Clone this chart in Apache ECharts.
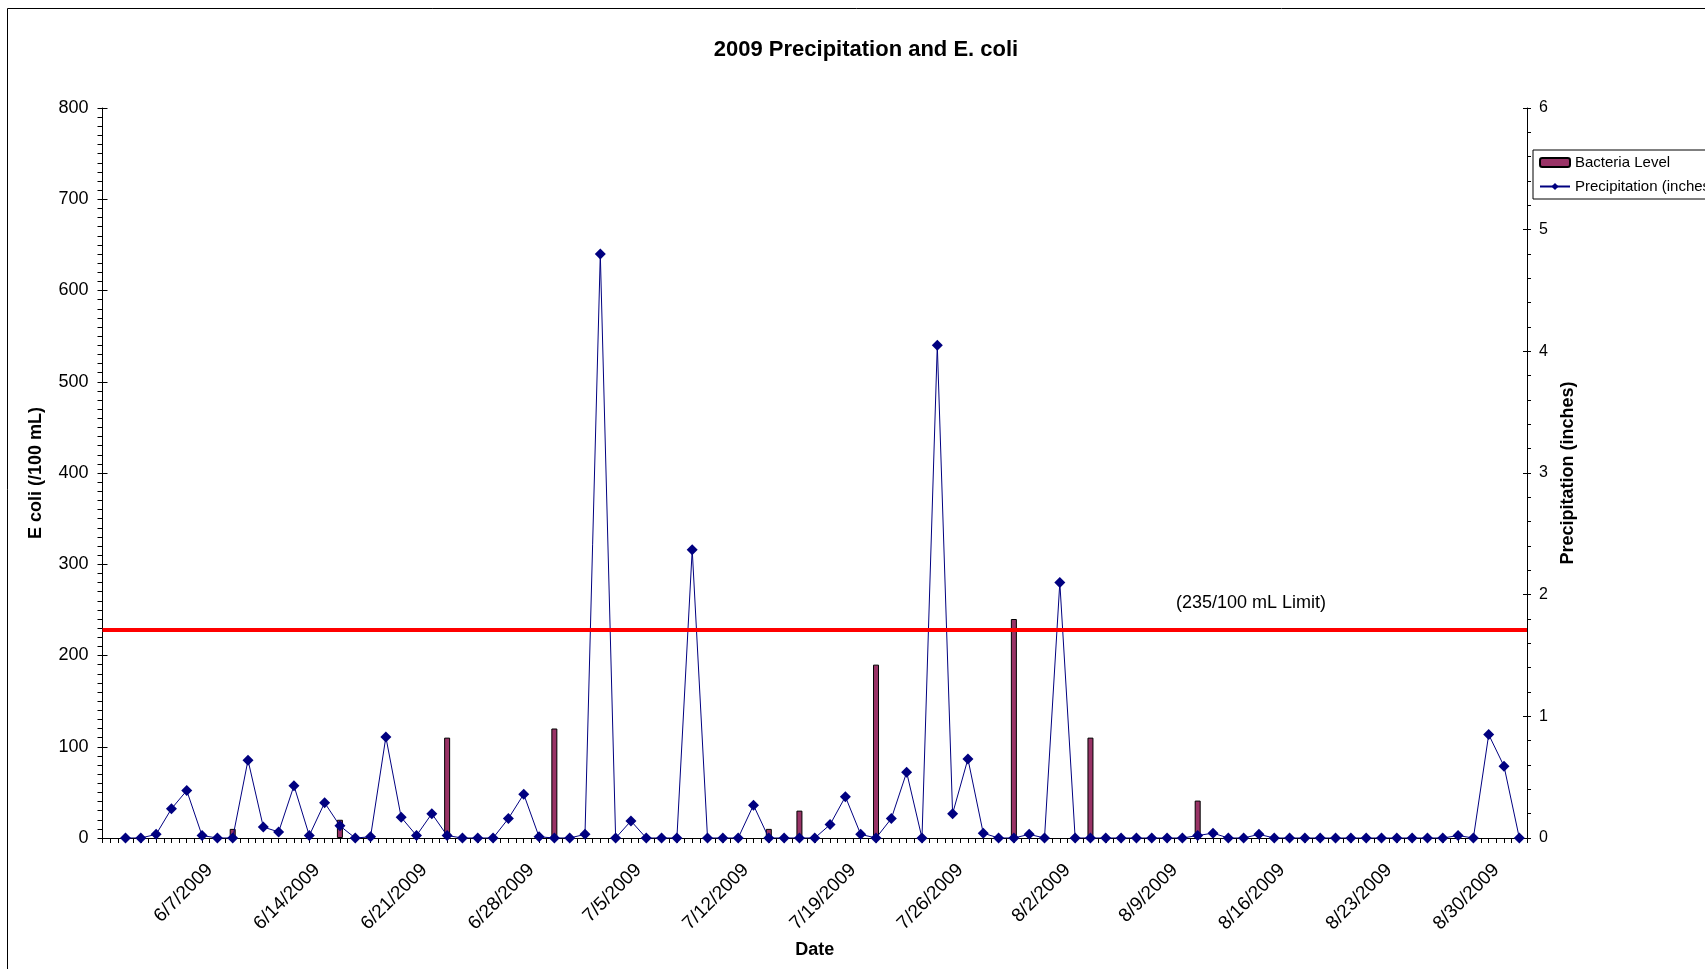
<!DOCTYPE html>
<html><head><meta charset="utf-8">
<script src="https://cdn.jsdelivr.net/npm/echarts@6/dist/echarts.min.js"></script>
<style>html,body{margin:0;padding:0;background:#fff}#c{width:1705px;height:969px}</style>
</head><body><div id="c"></div>
<script>
// Daily precipitation (inches), day 0 = 6/1/2009 ... day 91 = 8/31/2009
const precipitation = [
  0, 0, 0.03, 0.24, 0.39, 0.02, 0, 0, 0.64, 0.09,
  0.05, 0.43, 0.02, 0.29, 0.10, 0, 0.01, 0.83, 0.17, 0.02,
  0.20, 0.02, 0, 0, 0, 0.16, 0.36, 0.01, 0, 0,
  0.03, 4.80, 0, 0.14, 0, 0, 0, 2.37, 0, 0,
  0, 0.27, 0, 0, 0, 0, 0.11, 0.34, 0.03, 0,
  0.16, 0.54, 0, 4.05, 0.20, 0.65, 0.04, 0, 0, 0.03,
  0, 2.10, 0, 0, 0, 0, 0, 0, 0, 0,
  0.02, 0.04, 0, 0, 0.03, 0, 0, 0, 0, 0,
  0, 0, 0, 0, 0, 0, 0, 0.02, 0, 0.85,
  0.59, 0
];
// Bacteria samples: day offset from 6/1/2009 and E. coli level (/100 mL)
const bacteriaDays = [7, 14, 21, 28, 42, 44, 49, 58, 63, 70];
const bacteriaLevels = [10, 20, 110, 120, 10, 30, 190, 240, 110, 41];
// Date tick labels (weekly)
const dateLabels = ['6/7/2009','6/14/2009','6/21/2009','6/28/2009','7/5/2009','7/12/2009',
  '7/19/2009','7/26/2009','8/2/2009','8/9/2009','8/16/2009','8/23/2009','8/30/2009'];
const limitValue = 228;
const limitText = '(235/100 mL Limit)';

const FF = "'Liberation Sans', Arial, sans-serif";
const chart = echarts.init(document.getElementById('c'));
const labelMin = -1.36;
chart.setOption({
  animation: false,
  backgroundColor: '#fff',
  title: {
    text: '2009 Precipitation and E. coli',
    left: 866, top: 39, padding: 0, textAlign: 'center',
    textStyle: {fontFamily: FF, fontSize: 22, fontWeight: 'bold', color: '#000'}
  },
  legend: {
    orient: 'vertical', left: 1533, top: 150,
    borderColor: '#000', borderWidth: 1, padding: [4, 6, 4, 6],
    itemGap: 7, itemWidth: 30, itemHeight: 9,
    textStyle: {fontFamily: FF, fontSize: 15, color: '#000', lineHeight: 17},
    data: ['Bacteria Level', 'Precipitation (inches)']
  },
  grid: {left: 102.5, right: 178, top: 108, bottom: 131},
  xAxis: [
    {
      type: 'value', position: 'bottom', min: -1.5, max: 91.5, interval: 0.5,
      axisLine: {onZero: false, lineStyle: {color: '#000', width: 1}},
      axisTick: {show: true, length: 5, lineStyle: {color: '#000'}},
      axisLabel: {show: false}, splitLine: {show: false},
      name: 'Date', nameLocation: 'middle', nameGap: 103,
      nameTextStyle: {fontFamily: FF, fontSize: 18, fontWeight: 'bold', color: '#000'}
    },
    {
      type: 'value', position: 'bottom', min: labelMin, max: labelMin + 93, interval: 7,
      axisLine: {show: false, onZero: false}, axisTick: {show: false}, splitLine: {show: false},
      axisLabel: {
        rotate: 45, margin: 29, fontFamily: FF, fontSize: 19, color: '#000',
        showMaxLabel: false,
        formatter: function (v) {
          const k = (v - labelMin) / 7;
          const r = Math.round(k);
          if (Math.abs(k - r) > 0.01) return '';
          return dateLabels[r - 1] || '';
        }
      }
    }
  ],
  yAxis: [
    {
      type: 'value', position: 'left', min: 0, max: 800, interval: 100,
      axisLine: {show: true, onZero: false, lineStyle: {color: '#000'}},
      axisTick: {show: true, length: 5, lineStyle: {color: '#000'}},
      minorTick: {show: true, splitNumber: 10, length: 5, lineStyle: {color: '#000'}},
      splitLine: {show: false}, minorSplitLine: {show: false},
      axisLabel: {fontFamily: FF, fontSize: 18, margin: 14, color: '#000'},
      name: 'E coli (/100 mL)', nameLocation: 'middle', nameGap: 57, nameRotate: 90,
      nameTextStyle: {fontFamily: FF, fontSize: 18, fontWeight: 'bold', color: '#000'}
    },
    {
      type: 'value', position: 'right', min: 0, max: 6, interval: 1,
      axisLine: {show: true, onZero: false, lineStyle: {color: '#000'}},
      axisTick: {show: true, length: 4, lineStyle: {color: '#000'}},
      minorTick: {show: true, splitNumber: 5, length: 4, lineStyle: {color: '#000'}},
      splitLine: {show: false}, minorSplitLine: {show: false},
      axisLabel: {fontFamily: FF, fontSize: 16, margin: 12, color: '#000'},
      name: 'Precipitation (inches)', nameLocation: 'middle', nameGap: 30, nameRotate: 90,
      nameTextStyle: {fontFamily: FF, fontSize: 18, fontWeight: 'bold', color: '#000'}
    },
    {
      type: 'value', position: 'left', min: 0, max: 800, interval: 100,
      axisLine: {show: false, onZero: false}, axisLabel: {show: false}, splitLine: {show: false},
      axisTick: {show: true, inside: true, length: 5, lineStyle: {color: '#000'}}
    },
    {
      type: 'value', position: 'right', min: 0, max: 6, interval: 1,
      axisLine: {show: false, onZero: false}, axisLabel: {show: false}, splitLine: {show: false},
      axisTick: {show: true, inside: true, length: 4, lineStyle: {color: '#000'}}
    }
  ],
  series: [
    {
      type: 'bar', name: 'Bacteria Level', xAxisIndex: 0, yAxisIndex: 0, barWidth: 6,
      data: bacteriaDays.map((d, i) => [d, bacteriaLevels[i]]),
      itemStyle: {color: '#993366', borderColor: '#000', borderWidth: 1},
      markLine: {
        silent: true, symbol: 'none', label: {show: false},
        lineStyle: {color: '#ff0000', width: 4, type: 'solid'},
        data: [{yAxis: limitValue}]
      }
    },
    {
      type: 'line', name: 'Precipitation (inches)', xAxisIndex: 0, yAxisIndex: 1,
      data: precipitation.map((v, i) => [i, v]),
      symbol: 'diamond', symbolSize: 11, showSymbol: true,
      lineStyle: {color: '#000080', width: 1},
      itemStyle: {color: '#000080'}
    }
  ],
  graphic: [
    {
      type: 'rect', silent: true, z: 0,
      shape: {x: 7.5, y: 8.5, width: 1800, height: 1000},
      style: {fill: 'none', stroke: '#000', lineWidth: 1}
    },
    {
      type: 'text', silent: true, x: 1251, y: 603,
      style: {text: limitText, fontFamily: FF, fontSize: 18, fill: '#000', align: 'center', verticalAlign: 'middle'}
    }
  ]
});
</script></body></html>
